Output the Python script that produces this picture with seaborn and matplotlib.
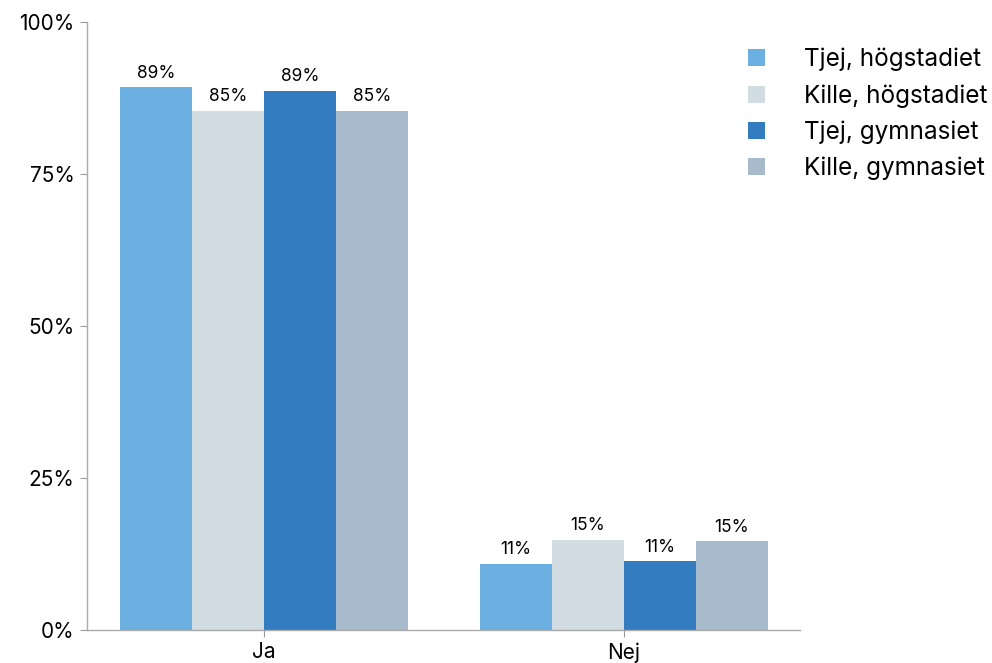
import pandas as pd
import matplotlib.pyplot as plt
import seaborn as sns
from matplotlib.ticker import FuncFormatter

# Data (percent)
answers = ["Ja", "Nej"]
groups = ["Tjej, högstadiet", "Kille, högstadiet", "Tjej, gymnasiet", "Kille, gymnasiet"]
tjej_hog = [89.3, 10.9]
kille_hog = [85.4, 14.8]
tjej_gym = [88.7, 11.3]
kille_gym = [85.4, 14.6]
colors = ["#6cb0e2", "#d1dce3", "#327cbf", "#a8bbcc"]

rows = []
for g, vals in zip(groups, [tjej_hog, kille_hog, tjej_gym, kille_gym]):
    for a, v in zip(answers, vals):
        rows.append({"svar": a, "grupp": g, "andel": v})
df = pd.DataFrame(rows)

sns.set_style("white")
plt.rcParams["font.family"] = ["Inter", "DejaVu Sans"]
plt.rcParams["text.color"] = "black"
plt.rcParams["xtick.labelcolor"] = "black"
plt.rcParams["ytick.labelcolor"] = "black"

fig = plt.figure(figsize=(9.92, 6.63), dpi=100)
ax = fig.add_axes([87 / 992, 33 / 663, 713 / 992, 608 / 663])

sns.barplot(data=df, x="svar", y="andel", hue="grupp", hue_order=groups,
            palette=colors, width=0.8, gap=0, saturation=1, errorbar=None,
            linewidth=0, ax=ax, legend=True)

for cont in ax.containers:
    ax.bar_label(cont, labels=[f"{round(b.get_height()):.0f}%" for b in cont],
                 padding=4, fontsize=12.5, color="black")

ax.set_ylim(0, 100)
ax.set_xlim(-0.492, 1.489)
ax.set_yticks([0, 25, 50, 75, 100])
ax.yaxis.set_major_formatter(FuncFormatter(lambda v, p: f"{v:.0f}%"))
ax.set_xlabel("")
ax.set_ylabel("")
ax.tick_params(axis="both", labelsize=15, length=5, color="#999999",
               left=True, bottom=True, pad=4)
sns.despine(ax=ax)
for s in ["left", "bottom"]:
    ax.spines[s].set_color("#aaaaaa")
    ax.spines[s].set_linewidth(1)

handles, labels = ax.get_legend_handles_labels()
ax.get_legend().remove()
fig.legend(handles, labels, loc="upper left", bbox_to_anchor=(726 / 992, 1 - 26 / 663),
           frameon=False, fontsize=17.5, handlelength=0.7, handleheight=0.7,
           handletextpad=1.6, labelspacing=0.52)

fig.savefig("out.png", dpi=100)
